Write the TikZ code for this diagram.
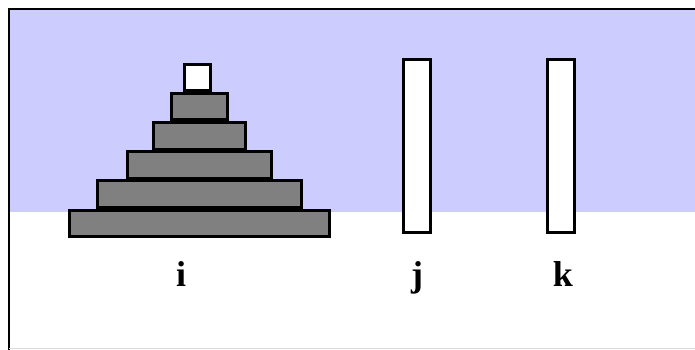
\documentclass[tikz,border=0pt]{standalone}
\usepackage{fontspec}
\setmainfont{Liberation Serif}
\definecolor{skyblue}{HTML}{CCCCFF}
\definecolor{diskgray}{HTML}{808080}
\begin{document}
\begin{tikzpicture}[x=1pt,y=-1pt,
  disk/.style={draw=black, line width=3pt, fill=diskgray, inner sep=0pt, outer sep=0pt, minimum height=26.5pt},
  peg/.style={draw=black, line width=3pt, fill=white, inner sep=0pt, outer sep=0pt, minimum width=27pt, minimum height=173pt},
  lbl/.style={font=\fontsize{36}{40}\selectfont\bfseries, anchor=base, inner sep=0pt}]
\useasboundingbox (0,0) rectangle (695,350);
\fill[white] (0,0) rectangle (695,350);
\fill[skyblue] (9,9) rectangle (695,212);
\draw[black, line width=2pt] (9,350) -- (9,9) -- (695,9);
\draw[black!15, line width=1pt] (9,348.5) -- (695,348.5);
% disks
\node[disk, minimum width=260pt] (d6) at (199.5,223.5) {};
\node[disk, minimum width=204pt] (d5) at (199.5,194) {};
\node[disk, minimum width=144pt] (d4) at (199.5,165) {};
\node[disk, minimum width=92pt]  (d3) at (199.5,136) {};
\node[disk, minimum width=56pt]  (d2) at (199.5,106.5) {};
\node[disk, fill=white, minimum width=26pt] (d1) at (197.5,77.5) {};
% pegs
\node[peg] (pj) at (417,146) {};
\node[peg] (pk) at (561,146) {};
% labels
\node[lbl] (li) at (181,286) {i};
\node[lbl] (lj) at (417,286) {j};
\node[lbl] (lk) at (563,286) {k};
\end{tikzpicture}
\end{document}
